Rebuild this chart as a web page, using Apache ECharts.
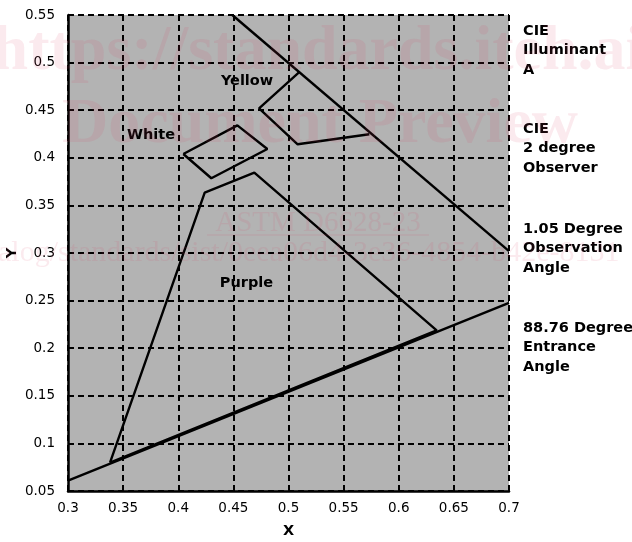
<!DOCTYPE html>
<html><head><meta charset="utf-8">
<script src="https://cdn.jsdelivr.net/npm/echarts@6/dist/echarts.min.js"></script>
<style>html,body{margin:0;padding:0;background:#fff}#c{width:632px;height:542px}</style>
</head><body><div id="c"></div>
<script>
// ---- data ----
const xRange = [0.3, 0.7];
const yRange = [0.05, 0.55];
const tickStep = 0.05;
const spectrumLocus = [[0.449, 0.55], [0.7, 0.302]];
const purpleBoundary = [[0.3, 0.061], [0.7, 0.2475]];
const yellowRegion = [[0.5095, 0.4898], [0.4733, 0.452], [0.5083, 0.4142], [0.5733, 0.4247]];
const whiteRegion = [[0.4046, 0.404], [0.4536, 0.4341], [0.4808, 0.4092], [0.43, 0.3785], [0.4046, 0.404]];
const purpleRegion = [[0.3381, 0.0797], [0.424, 0.3634], [0.469, 0.3844], [0.6344, 0.2188], [0.3381, 0.0797]];
const regionNames = ['Yellow', 'White', 'Purple'];
const regionLabelPos = [[0.4624, 0.4807], [0.3753, 0.424], [0.4619, 0.2685]];
const sideNotes = ['CIE\nIlluminant\nA', 'CIE\n2 degree\nObserver', '1.05 Degree\nObservation\nAngle', '88.76 Degree\nEntrance\nAngle'];
const watermark = ['https://standards.iteh.ai', 'Document Preview', 'ASTM D6628-23', 'alog/standards/sist/0eea06d4-3e36-4854-b42e-8131'];

// ---- chart ----
const FONT = '"DejaVu Sans", Verdana, sans-serif';
const chart = echarts.init(document.getElementById('c'), null, {renderer: 'canvas'});
const lineSeries = (data) => ({
  type: 'line', data, showSymbol: false, symbol: 'none', silent: true,
  lineStyle: {color: '#000', width: 2.4}, z: 3
});
const noteTops = [21, 119, 219, 318];
const wmFill = 'rgba(220,60,100,0.11)';
chart.setOption({
  animation: false,
  grid: {left: 68, top: 15, right: 123, bottom: 51, show: true, backgroundColor: '#b3b3b3', borderWidth: 0,
    containLabel: false, outerBoundsMode: 'none'},
  xAxis: {
    type: 'value', min: xRange[0], max: xRange[1], interval: tickStep,
    name: 'X', nameLocation: 'middle', nameGap: 33, nameMoveOverlap: false,
    nameTextStyle: {fontFamily: FONT, fontWeight: 'bold', fontSize: 14.5, color: '#000'},
    axisLine: {show: true, onZero: false, lineStyle: {color: '#000', width: 2.5}},
    axisTick: {show: false},
    axisLabel: {fontFamily: FONT, fontSize: 13.5, color: '#000', margin: 10},
    splitLine: {show: true, lineStyle: {color: '#000', width: 2, type: [6, 4]}}
  },
  yAxis: {
    type: 'value', min: yRange[0], max: yRange[1], interval: tickStep,
    name: 'Y', nameLocation: 'middle', nameGap: 48, nameMoveOverlap: false,
    nameTextStyle: {fontFamily: FONT, fontWeight: 'bold', fontSize: 14.5, color: '#000'},
    axisLine: {show: true, onZero: false, lineStyle: {color: '#000', width: 2.5}},
    axisTick: {show: false},
    axisLabel: {fontFamily: FONT, fontSize: 13.5, color: '#000', margin: 13},
    splitLine: {show: true, lineStyle: {color: '#000', width: 2, type: [6, 4]}}
  },
  series: [
    lineSeries(spectrumLocus),
    lineSeries(purpleBoundary),
    lineSeries(yellowRegion),
    lineSeries(whiteRegion),
    lineSeries(purpleRegion),
    {
      type: 'scatter', silent: true, symbolSize: 0, z: 4,
      data: regionNames.map((n, i) => ({name: n, value: regionLabelPos[i]})),
      label: {show: true, position: 'inside', formatter: '{b}', fontFamily: FONT, fontWeight: 'bold', fontSize: 14.5,
        color: '#000', textBorderWidth: 0, opacity: 1}
    }
  ],
  graphic: [
    ...sideNotes.map((t, i) => ({
      type: 'text', x: 523, y: noteTops[i], z: 10,
      style: {text: t, fill: '#000', font: 'bold 14.5px ' + FONT, lineHeight: 19.5, verticalAlign: 'top', align: 'left'}
    })),
    {type: 'text', x: 318, y: 52, z: 100, silent: true,
      style: {text: watermark[0], fill: wmFill, font: 'bold 64px "Liberation Serif", serif', align: 'center', verticalAlign: 'middle'}},
    {type: 'text', x: 320, y: 125, z: 100, silent: true,
      style: {text: watermark[1], fill: wmFill, font: 'bold 64px "Liberation Serif", serif', align: 'center', verticalAlign: 'middle'}},
    {type: 'text', x: 318, y: 223, z: 100, silent: true,
      style: {text: watermark[2], fill: wmFill, font: '29px "Liberation Serif", serif', align: 'center', verticalAlign: 'middle'}},
    {type: 'line', z: 100, silent: true, shape: {x1: 207, y1: 235, x2: 429, y2: 235}, style: {stroke: wmFill, lineWidth: 1.5}},
    {type: 'text', x: -2, y: 253, z: 100, silent: true,
      style: {text: watermark[3], fill: wmFill, font: '30px "Liberation Serif", serif', align: 'left', verticalAlign: 'middle'}}
  ]
});
</script></body></html>
